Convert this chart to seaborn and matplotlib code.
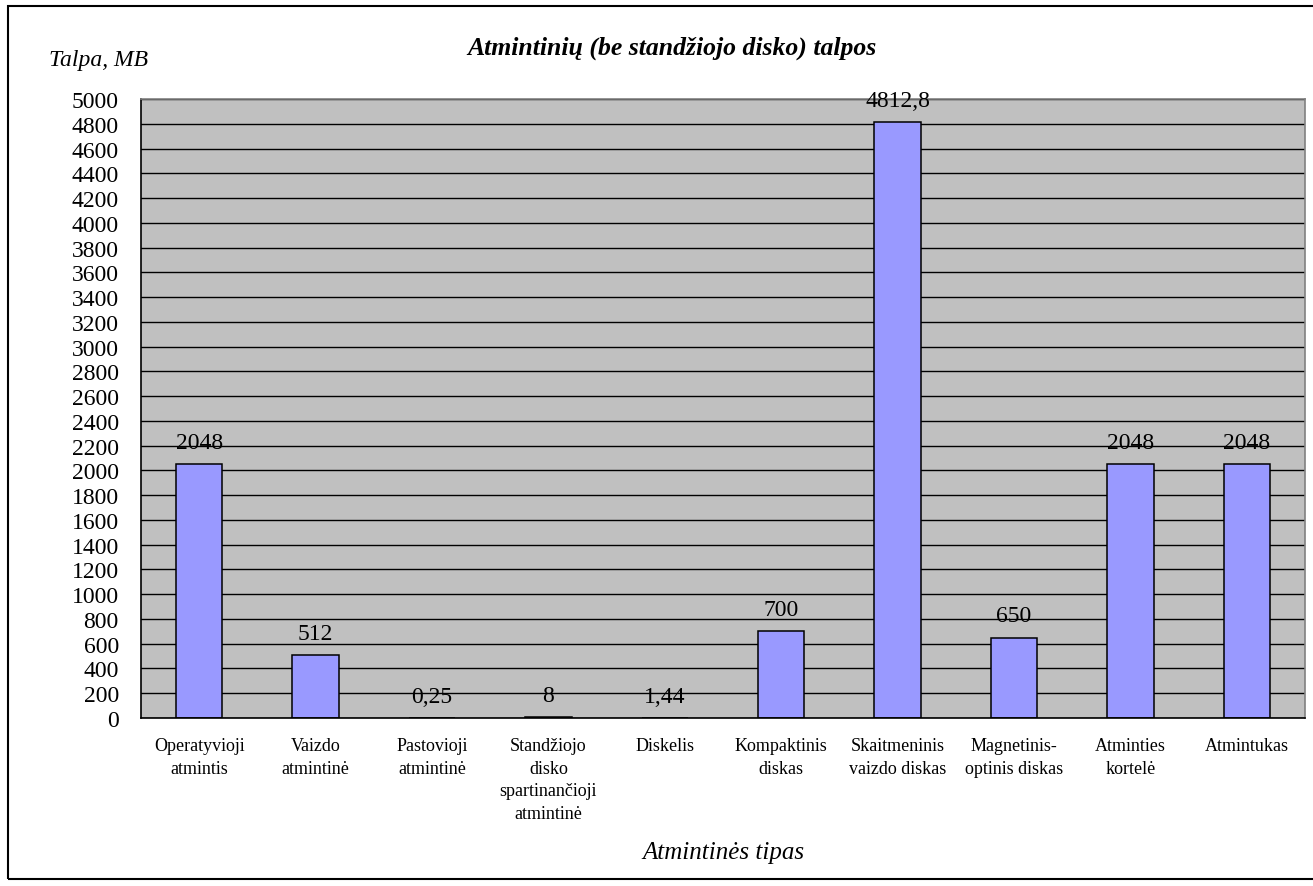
import pandas as pd
import matplotlib.pyplot as plt
import seaborn as sns
from matplotlib.patches import Rectangle

# Chart data
categories = ['Operatyvioji\natmintis', 'Vaizdo\natmintinė', 'Pastovioji\natmintinė',
              'Standžiojo\ndisko\nspartinančioji\natmintinė', 'Diskelis',
              'Kompaktinis\ndiskas', 'Skaitmeninis\nvaizdo diskas',
              'Magnetinis-\noptinis diskas', 'Atminties\nkortelė', 'Atmintukas']
capacities = [2048, 512, 0.25, 8, 1.44, 700, 4812.8, 650, 2048, 2048]
value_labels = ['2048', '512', '0,25', '8', '1,44', '700', '4812,8', '650', '2048', '2048']
y_ticks = list(range(0, 5001, 200))

df = pd.DataFrame({'tipas': categories, 'talpa': capacities})

sns.set_style('white')
plt.rcParams['font.family'] = ['Liberation Serif', 'DejaVu Serif']
plt.rcParams['text.color'] = 'black'
plt.rcParams['xtick.color'] = 'black'
plt.rcParams['ytick.color'] = 'black'

fig = plt.figure(figsize=(13.13, 8.87), dpi=100)
ax = fig.add_axes([141 / 1313, 1 - 719 / 887, (1305 - 141) / 1313, (719 - 100) / 887])
ax.set_facecolor('#C0C0C0')
ax.set_axisbelow(True)

sns.barplot(data=df, x='tipas', y='talpa', color='#9999FF', width=0.4,
            edgecolor='black', linewidth=1.1, saturation=1, ax=ax)

# Value labels above bars
ax.bar_label(ax.containers[0], labels=value_labels, padding=8, fontsize=17, color='black')

ax.set_ylim(0, 5000)
ax.set_xlim(-0.5, len(categories) - 0.5)
ax.set_yticks(y_ticks)
ax.set_yticklabels([str(t) for t in y_ticks], fontsize=17)
ax.yaxis.grid(True, color='black', linewidth=1)
ax.set_xticks(range(len(categories)))
ax.set_xticklabels(categories, fontsize=13, linespacing=1.42, va='top')
ax.set_xlabel('')
ax.set_ylabel('')

# Category separators as minor ticks, no major tick marks
ax.set_xticks([i + 0.5 for i in range(-1, len(categories))], minor=True)
ax.tick_params(axis='x', which='major', length=0, pad=14)
ax.tick_params(axis='x', which='minor', length=5, width=1, color='black', direction='out')
ax.tick_params(axis='y', length=7, width=1, color='black', direction='out', pad=9)

for side in ['left', 'bottom']:
    ax.spines[side].set_color('black')
    ax.spines[side].set_linewidth(1.2)
for side in ['top', 'right']:
    ax.spines[side].set_color('#808080')
    ax.spines[side].set_linewidth(1.2)

fig.text(0.512, 0.946, 'Atmintinių (be standžiojo disko) talpos', ha='center', va='center',
         fontsize=18.5, fontweight='bold', fontstyle='italic')
fig.text(0.037, 0.932, 'Talpa, MB', ha='left', va='center', fontsize=17, fontstyle='italic')
fig.text(723 / 1313, 0.038, 'Atmintinės tipas', ha='center', va='center', fontsize=18, fontstyle='italic')

# Outer chart border
fig.patches.append(Rectangle((8 / 1313, 7 / 887), 1.2, 1 - 14 / 887, transform=fig.transFigure,
                             fill=False, edgecolor='black', linewidth=1.5))

plt.savefig('out.png', dpi=100)
